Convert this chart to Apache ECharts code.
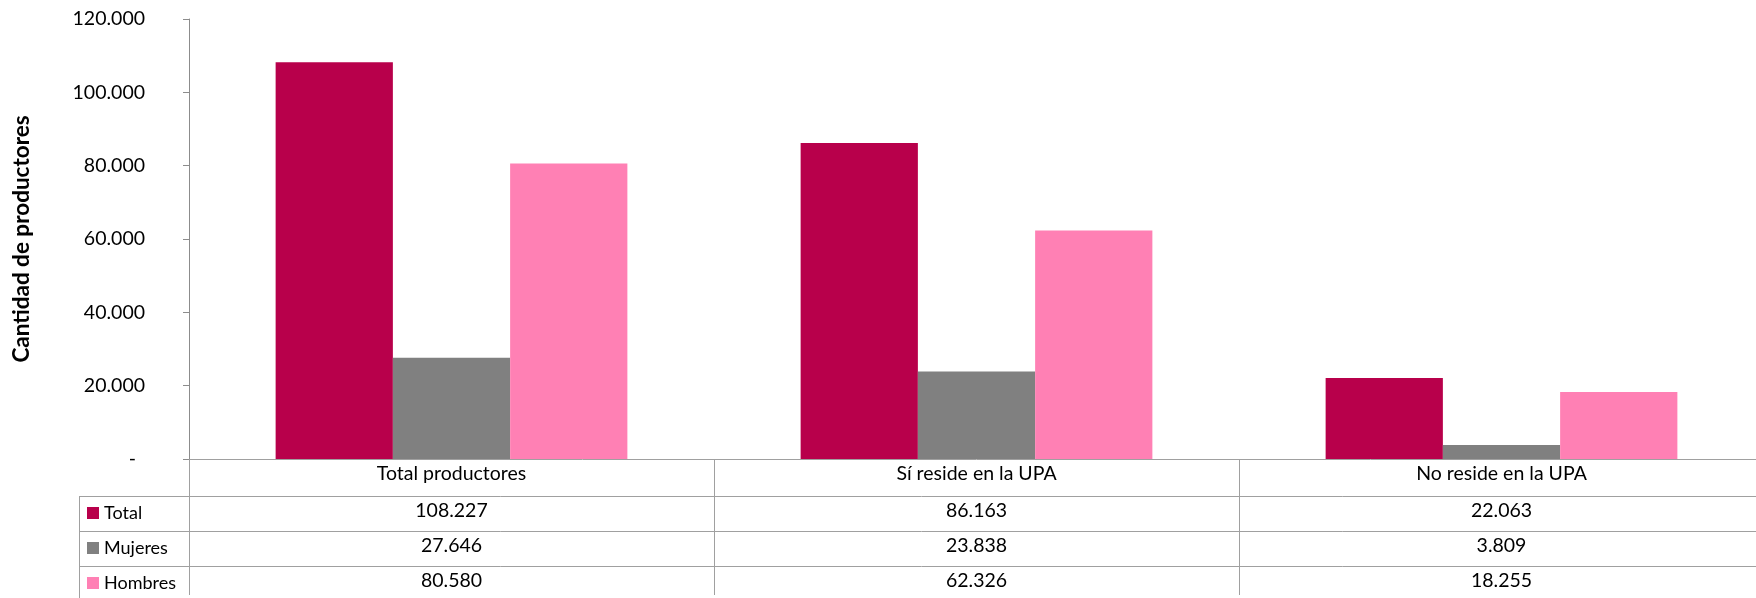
<!DOCTYPE html>
<html>
<head>
<meta charset="utf-8">
<script src="https://cdn.jsdelivr.net/npm/echarts@6/dist/echarts.min.js"></script>
<style>
  html, body { margin: 0; padding: 0; background: #fff; overflow: hidden; }
  /* the last table column runs slightly past the right edge of the page */
  #chart { width: 1764px; height: 598px; }
</style>
</head>
<body>
<div id="chart"></div>
<script>
// Productores por residencia en la UPA, según sexo
const categories = ['Total productores', 'Sí reside en la UPA', 'No reside en la UPA'];
const seriesNames = ['Total', 'Mujeres', 'Hombres'];
const totalValues = [108227, 86163, 22063];
const mujeresValues = [27646, 23838, 3809];
const hombresValues = [80580, 62326, 18255];
const yTickValues = [0, 20000, 40000, 60000, 80000, 100000, 120000];

const seriesValues = [totalValues, mujeresValues, hombresValues];
const colors = ['#B8004B', '#808080', '#FF80B4'];

// Layout of the plot area and the data table below it
const FONT = 'Lato, "Noto Sans", sans-serif';
const H = 598;
const GRID_LEFT = 189, GRID_TOP = 19, AXIS_Y = 462;
const HEADER_H = 34, ROW_H = 35, TABLE_LEFT = 79;
const LINE_COLOR = '#a0a0a0';
const TABLE_FONT = 19.5;

function fmt(v) {
  return String(Math.round(v)).replace(/\B(?=(\d{3})+(?!\d))/g, '.');
}

const el = document.getElementById('chart');
const chart = echarts.init(el, null, { renderer: 'canvas' });
const W = el.clientWidth;

const rowAxes = seriesValues.map((vals, r) => ({
  type: 'category',
  data: categories,
  gridIndex: 0,
  position: 'bottom',
  offset: HEADER_H + ROW_H * r,
  axisLine: { show: false },
  axisTick: { show: false },
  axisLabel: {
    interval: 0, margin: 0, lineHeight: ROW_H,
    fontFamily: FONT, fontSize: TABLE_FONT, color: '#000',
    formatter: (v, i) => fmt(vals[i])
  }
}));

const tableLines = [];
for (let r = 0; r < seriesNames.length; r++) {
  const y = AXIS_Y + HEADER_H + ROW_H * r + 0.5;
  tableLines.push({
    type: 'line', silent: true,
    shape: { x1: TABLE_LEFT, y1: y, x2: W, y2: y },
    style: { stroke: LINE_COLOR, lineWidth: 1 }
  });
}
tableLines.push({
  type: 'line', silent: true,
  shape: { x1: TABLE_LEFT + 0.5, y1: AXIS_Y + HEADER_H, x2: TABLE_LEFT + 0.5, y2: H },
  style: { stroke: LINE_COLOR, lineWidth: 1 }
});

const option = {
  backgroundColor: '#fff',
  animation: false,
  color: colors,
  textStyle: { fontFamily: FONT },
  grid: { left: GRID_LEFT, top: GRID_TOP, right: 0, bottom: H - AXIS_Y, containLabel: false },
  legend: {
    orient: 'vertical',
    left: 87, top: AXIS_Y + HEADER_H + 6,
    itemWidth: 12, itemHeight: 12, itemGap: 13,
    padding: 0,
    selectedMode: false,
    icon: 'rect',
    data: seriesNames,
    textStyle: { fontFamily: FONT, fontSize: 18, color: '#000', lineHeight: 22 }
  },
  xAxis: [{
    type: 'category',
    data: categories,
    position: 'bottom',
    axisLine: { show: true, lineStyle: { color: LINE_COLOR, width: 1 } },
    axisTick: { show: true, inside: false, length: H - AXIS_Y, lineStyle: { color: LINE_COLOR, width: 1 } },
    axisLabel: {
      interval: 0, margin: 0, lineHeight: 30,
      fontFamily: FONT, fontSize: TABLE_FONT, color: '#000'
    },
    splitLine: { show: false }
  }].concat(rowAxes),
  yAxis: {
    type: 'value',
    min: yTickValues[0],
    max: yTickValues[yTickValues.length - 1],
    interval: yTickValues[1] - yTickValues[0],
    name: 'Cantidad de productores',
    nameLocation: 'middle',
    nameGap: 156,
    nameTextStyle: { fontFamily: FONT, fontSize: 22.5, fontWeight: 'bold', color: '#000' },
    axisLine: { show: true, lineStyle: { color: '#8c8c8c', width: 1 } },
    axisTick: { show: true, length: 6, lineStyle: { color: '#8c8c8c' } },
    splitLine: { show: false },
    axisLabel: {
      margin: 44,
      fontFamily: FONT, fontSize: 19.5, color: '#000',
      formatter: v => v === 0 ? '{dash|-}' : fmt(v),
      rich: { dash: { fontFamily: FONT, fontSize: 19.5, color: '#000', padding: [0, 9, 0, 0] } }
    }
  },
  series: seriesNames.map((name, s) => ({
    name: name,
    type: 'bar',
    xAxisIndex: 0,
    data: seriesValues[s],
    barGap: '0%',
    barCategoryGap: '33%',
    itemStyle: { color: colors[s] }
  })),
  graphic: tableLines
};

chart.setOption(option);
</script>
</body>
</html>
